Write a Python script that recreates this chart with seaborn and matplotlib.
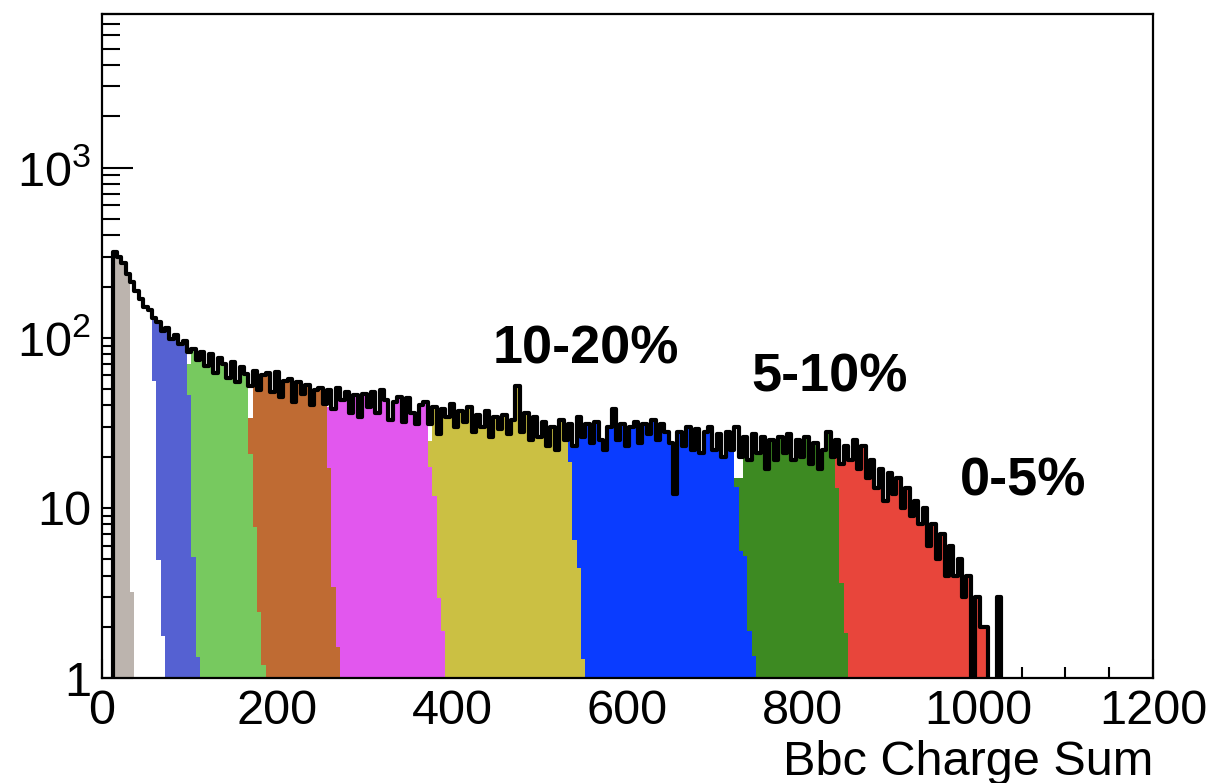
import numpy as np
import pandas as pd
import matplotlib
matplotlib.use("Agg")
import matplotlib.pyplot as plt
import seaborn as sns
from matplotlib.ticker import FixedLocator, FixedFormatter, MultipleLocator, LogLocator, NullFormatter

# Bbc charge-sum spectrum: 5-unit bins starting at charge 12
bin_start = 12
bin_width = 5
events = [
    318, 300, 276, 236, 214, 188, 170, 152, 146, 130,   # 12 - 57
    124, 110, 114, 98, 104, 92, 96, 82, 86, 74,         # 62 - 107
    82, 68, 80, 62, 76, 70, 58, 72, 55, 67,             # 112 - 157
    61, 52, 64, 49, 60, 62, 48, 63, 45, 56,             # 162 - 207
    57, 42, 55, 47, 53, 40, 49, 51, 41, 49,             # 212 - 257
    38, 51, 43, 48, 36, 46, 34, 47, 39, 48,             # 262 - 307
    36, 49, 43, 33, 42, 45, 32, 44, 36, 31,             # 312 - 357
    40, 42, 31, 39, 27, 38, 34, 41, 30, 37,             # 362 - 407
    32, 39, 28, 35, 30, 37, 26, 34, 29, 35,             # 412 - 457
    27, 33, 52, 28, 36, 25, 34, 26, 32, 23,             # 462 - 507
    30, 22, 33, 25, 31, 23, 34, 26, 31, 24,             # 512 - 557
    32, 25, 22, 30, 38, 25, 31, 23, 30, 32,             # 562 - 607
    24, 31, 27, 33, 25, 31, 28, 24, 12, 28,             # 612 - 657
    23, 30, 22, 29, 21, 28, 30, 22, 27, 20,             # 662 - 707
    28, 22, 30, 20, 26, 19, 27, 21, 26, 17,             # 712 - 757
    25, 19, 26, 21, 27, 19, 25, 20, 26, 18,             # 762 - 807
    24, 17, 22, 28, 20, 25, 18, 23, 19, 25,             # 812 - 857
    17, 23, 15, 19, 13, 17, 11, 16, 12, 15,             # 862 - 907
    10, 13, 9, 11, 8, 10, 6, 8, 5, 7,                   # 912 - 957
    4, 6, 4, 5, 3, 4, 1, 3, 2, 2,                       # 962 - 1007
    0, 0, 3, 0,                                         # 1012 - 1027
]

# Centrality classes, most peripheral first: fill colour and core charge range
class_colors = ["#bcb4ae", "#ffffff", "#5561d2", "#77c95f", "#bf6b33",
                "#e257ee", "#cbc043", "#0a3cff", "#3d8a22", "#e8453b"]
class_lo = [12, 32, 57, 97, 167, 257, 372, 532, 722, 837]
class_hi = [32, 57, 97, 167, 257, 372, 532, 722, 837, 1032]
# fraction of the total held by a class in the first bins of its core
class_head = [[], [], [], [0.85], [0.65], [0.8], [0.8], [0.8], [0.5, 0.75], [0.8]]
# fraction of the total a class still holds in the bins above its core
class_tail = [[0.015], [0.43, 0.04, 0.016], [0.56, 0.06, 0.018],
              [0.4, 0.12, 0.05, 0.02], [0.35, 0.09, 0.03],
              [0.56, 0.3, 0.11, 0.05], [0.6, 0.28, 0.13, 0.05],
              [0.44, 0.28, 0.2, 0.1, 0.05], [0.52, 0.2, 0.08, 0.03], []]

label_text = ["10-20%", "5-10%", "0-5%"]
label_x = [552, 831, 1052]
label_y = [70.5, 48.3, 11.8]

x_ticks = [0, 200, 400, 600, 800, 1000, 1200]
y_ticks = [1, 10, 100, 1000]
y_tick_labels = ["1", "10", "$10^{2}$", "$10^{3}$"]

sns.set_style("white")
plt.rcParams["font.family"] = ["Liberation Sans", "DejaVu Sans"]
plt.rcParams["mathtext.default"] = "regular"
plt.rcParams["text.color"] = "black"
plt.rcParams["axes.labelcolor"] = "black"
plt.rcParams["xtick.color"] = "black"
plt.rcParams["ytick.color"] = "black"

counts = np.array(events, dtype=float)
n = len(counts)
lefts = bin_start + bin_width * np.arange(n)
centers = lefts + bin_width / 2
# one empty bin in front so the outline rises from the floor
n_bins = n + 1
bin_range = (bin_start - bin_width, bin_start + bin_width * n)

frames = []
for k, color in enumerate(class_colors):
    share = ((lefts >= class_lo[k]) & (lefts < class_hi[k])).astype(float)
    first = (class_lo[k] - bin_start) // bin_width
    for j, s in enumerate(class_head[k]):
        share[first + j] = s
    after = (class_hi[k] - bin_start) // bin_width
    for j, s in enumerate(class_tail[k]):
        if after + j < n:
            share[after + j] = s
    frames.append(pd.DataFrame({"charge": centers, "events": counts * share,
                                "cls": k}))
classes = pd.concat(frames, ignore_index=True)
total = pd.DataFrame({"charge": centers, "events": counts})

fig = plt.figure(figsize=(12.08, 7.83), dpi=100)
ax = fig.add_axes([102 / 1208, 1 - 678 / 783, (1153 - 102) / 1208, (678 - 14) / 783])

# central classes underneath, peripheral ones drawn on top
for z, k in enumerate(reversed(range(len(class_colors)))):
    sns.histplot(data=classes[classes["cls"] == k], x="charge", weights="events",
                 bins=n_bins, binrange=bin_range, element="step", fill=True,
                 color=class_colors[k], alpha=1, linewidth=0, ax=ax, zorder=2 + z)

sns.histplot(data=total, x="charge", weights="events", bins=n_bins,
             binrange=bin_range, element="step", fill=False, color="black",
             linewidth=3.0, ax=ax, zorder=20)

ax.set_yscale("log")
ax.set_xlim(0, 1200)
ax.set_ylim(1, 8000)

ax.xaxis.set_major_locator(FixedLocator(x_ticks))
ax.xaxis.set_minor_locator(MultipleLocator(50))
ax.yaxis.set_major_locator(FixedLocator(y_ticks))
ax.yaxis.set_major_formatter(FixedFormatter(y_tick_labels))
ax.yaxis.set_minor_locator(LogLocator(base=10, subs=np.arange(2, 10)))
ax.yaxis.set_minor_formatter(NullFormatter())

ax.tick_params(axis="both", which="both", direction="in", width=1.5,
               colors="black", labelcolor="black", labelsize=35,
               top=False, right=False, bottom=True, left=True)
ax.tick_params(axis="x", which="major", length=14, pad=8)
ax.tick_params(axis="x", which="minor", length=8)
ax.tick_params(axis="y", which="major", length=22, pad=8)
ax.tick_params(axis="y", which="minor", length=13)

for side in ["left", "right", "top", "bottom"]:
    ax.spines[side].set_visible(True)
    ax.spines[side].set_color("black")
    ax.spines[side].set_linewidth(1.6)
    ax.spines[side].set_zorder(30)

ax.set_ylabel("")
ax.set_xlabel("Bbc Charge Sum", fontsize=35, loc="right", labelpad=4,
              color="black")

for text, x, y in zip(label_text, label_x, label_y):
    ax.text(x, y, text, ha="center", va="baseline", fontsize=39,
            fontweight="bold", color="black", zorder=40)

fig.savefig("out.png", dpi=100)
